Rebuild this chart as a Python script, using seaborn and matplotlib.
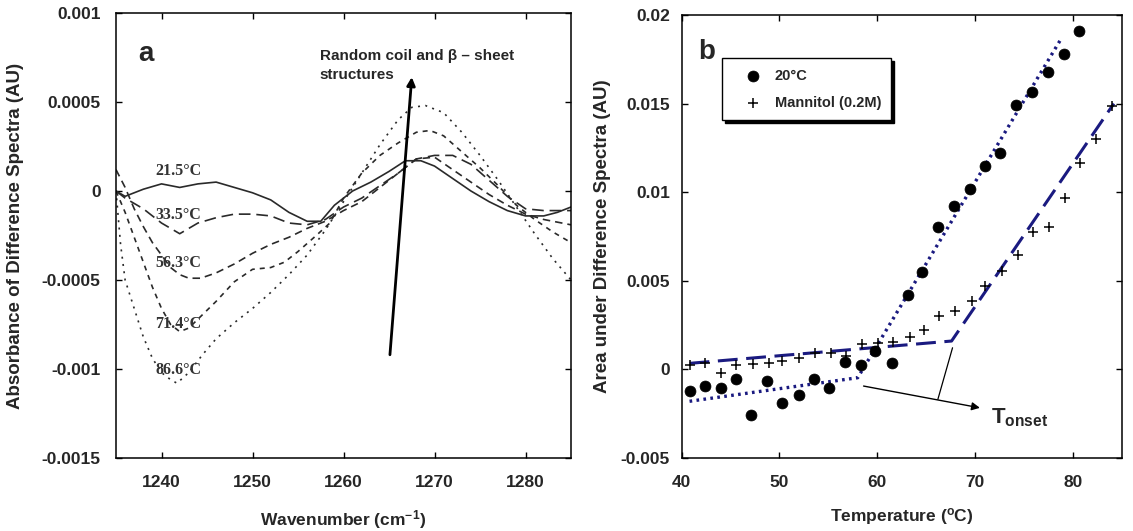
import matplotlib
matplotlib.use("Agg")
import numpy as np
import pandas as pd
import matplotlib.pyplot as plt
import seaborn as sns

# ---------------- Panel a: difference spectra ----------------
wn_215 = [1235, 1236, 1238, 1240, 1242, 1244, 1246, 1248, 1250, 1252, 1254, 1256, 1257.5,
          1259, 1261, 1263, 1265, 1266.8, 1268.5, 1270, 1272, 1274, 1276, 1278, 1280, 1282, 1283.5, 1285]
ab_215 = [0.0, -0.00003, 0.00001, 0.00004, 0.00002, 0.00004, 0.00005, 0.00002, -0.00001, -0.00005,
          -0.00012, -0.00017, -0.00017, -0.00008, 0.0, 0.00005, 0.00011, 0.00017, 0.00017, 0.00014,
          0.00007, 0.0, -0.00006, -0.00011, -0.00014, -0.00014, -0.00012, -0.00009]

wn_335 = [1235, 1236, 1238, 1240, 1242, 1244, 1246, 1248, 1250, 1252, 1254, 1256, 1258, 1260,
          1262, 1264, 1266, 1268, 1270, 1272, 1274, 1276, 1278, 1280, 1282, 1285]
ab_335 = [0.0, -0.00004, -0.0001, -0.00018, -0.00024, -0.00018, -0.00015, -0.00013, -0.00013,
          -0.00014, -0.00018, -0.00019, -0.00016, -0.00009, -0.00004, 0.00003, 0.0001, 0.00018,
          0.0002, 0.0002, 0.00015, 0.00006, -0.00003, -0.0001, -0.00011, -0.00011]

wn_563 = [1235, 1236, 1237, 1238, 1239, 1240, 1241, 1242, 1243, 1244.3, 1246, 1248, 1250, 1252,
          1254, 1256, 1258, 1260, 1262, 1264, 1266, 1268, 1270, 1272, 1274, 1276, 1278, 1280, 1282, 1285]
ab_563 = [0.00012, 0.00002, -0.0001, -0.0002, -0.00029, -0.00036, -0.00043, -0.00047, -0.00049,
          -0.00049, -0.00046, -0.00041, -0.00035, -0.0003, -0.00026, -0.00021, -0.00017, -0.00011,
          -0.00006, 0.00002, 0.0001, 0.00018, 0.00019, 0.00012, 0.00005, -0.00002, -0.00008,
          -0.00013, -0.00016, -0.00019]

wn_714 = [1235, 1236, 1237, 1238, 1239, 1240, 1241, 1242, 1243, 1244, 1246, 1248, 1250, 1252,
          1253.5, 1255, 1257, 1258.5, 1260, 1262, 1264, 1266, 1268, 1269.5, 1271, 1273, 1275, 1277,
          1279, 1281, 1283, 1285]
ab_714 = [0.0, -0.00012, -0.00026, -0.0004, -0.00054, -0.00066, -0.00075, -0.00079, -0.00077,
          -0.00072, -0.00062, -0.00051, -0.00044, -0.00043, -0.0004, -0.00034, -0.00025, -0.00018,
          -0.00004, 0.0001, 0.0002, 0.00027, 0.00033, 0.00034, 0.00031, 0.00022, 0.00013, 0.00003,
          -0.00008, -0.00016, -0.00023, -0.00029]

wn_866 = [1235, 1235.5, 1236, 1237, 1238, 1239, 1240, 1241, 1241.7, 1243, 1244.5, 1246, 1248,
          1250, 1252, 1254, 1256, 1258, 1260, 1262, 1264, 1266, 1267.5, 1269, 1271, 1273, 1275,
          1277, 1279, 1281, 1283, 1285]
ab_866 = [0.0, -0.0003, -0.0005, -0.00066, -0.00082, -0.00094, -0.00102, -0.00106, -0.00108,
          -0.00102, -0.00092, -0.00083, -0.00074, -0.00066, -0.00057, -0.00047, -0.00036, -0.00022,
          -0.00006, 0.0001, 0.00026, 0.0004, 0.00047, 0.00048, 0.00044, 0.00033, 0.0002, 0.00006,
          -0.00009, -0.00024, -0.00038, -0.0005]

temp_labels = ["21.5°C", "33.5°C", "56.3°C", "71.4°C", "86.6°C"]
label_wn = [1239.3, 1239.3, 1239.3, 1239.3, 1239.3]
label_ab = [0.000115, -0.000135, -0.000405, -0.00075, -0.001007]

a_xticks = [1240, 1250, 1260, 1270, 1280]
a_yticks = [-0.0015, -0.001, -0.0005, 0, 0.0005, 0.001]
a_yticklabels = ["-0.0015", "-0.001", "-0.0005", "0", "0.0005", "0.001"]
a_arrow_tail = (1265.1, -0.00092)
a_arrow_head = (1267.5, 0.00064)

# ---------------- Panel b: area vs temperature ----------------
t_20 = [40.8, 42.4, 44.0, 45.6, 47.1, 48.75, 50.3, 51.95, 53.55, 55.1, 56.7, 58.3, 59.8, 61.5,
        63.1, 64.6, 66.2, 67.8, 69.45, 71.0, 72.6, 74.2, 75.8, 77.5, 79.1, 80.6]
area_20 = [-0.00122, -0.00094, -0.00104, -0.00057, -0.00258, -0.00066, -0.00188, -0.00147,
           -0.00057, -0.00104, 0.00041, 0.00023, 0.00104, 0.00038, 0.00418, 0.0055, 0.00804,
           0.00923, 0.01017, 0.01149, 0.0122, 0.01492, 0.01563, 0.0168, 0.0178, 0.01908]

t_man = [40.8, 42.4, 44.0, 45.6, 47.3, 48.9, 50.3, 51.95, 53.6, 55.25, 56.8, 58.4, 60.1, 61.6,
         63.3, 64.8, 66.3, 68.0, 69.7, 71.0, 72.8, 74.4, 75.9, 77.6, 79.2, 80.7, 82.4, 84.0]
area_man = [0.00023, 0.00034, -0.00023, 0.00024, 0.00032, 0.00038, 0.00047, 0.00066, 0.00094,
            0.00094, 0.00075, 0.00141, 0.00151, 0.00156, 0.00185, 0.00222, 0.00301, 0.0033,
            0.00386, 0.00471, 0.00556, 0.00644, 0.00776, 0.00804, 0.00966, 0.01164, 0.013, 0.01484]

fit20_t = [40.8, 58.0, 78.8]
fit20_a = [-0.0018, -0.00047, 0.01865]
fitman_t = [40.8, 67.6, 84.2]
fitman_a = [0.00034, 0.0016, 0.0150]

b_xticks = [40, 50, 60, 70, 80]
b_yticks = [-0.005, 0, 0.005, 0.01, 0.015, 0.02]
b_yticklabels = ["-0.005", "0", "0.005", "0.01", "0.015", "0.02"]
onset_tick = ([67.7, 66.2], [0.00122, -0.00169])
onset_arrow_tail = (58.6, -0.00094)
onset_arrow_head = (70.5, -0.00217)

# ---------------- style ----------------
sns.set_style("ticks")
plt.rcParams['font.family'] = ['Liberation Sans', 'DejaVu Sans']
plt.rcParams['mathtext.fontset'] = 'custom'
plt.rcParams['mathtext.rm'] = 'Liberation Sans'
plt.rcParams['mathtext.bf'] = 'Liberation Sans:bold'
plt.rcParams['mathtext.it'] = 'Liberation Sans:italic'

fig = plt.figure(figsize=(11.33, 5.31), dpi=100)
fig.patch.set_facecolor('white')
ax1 = fig.add_axes([0.1024, 0.1375, 0.4016, 0.838])
ax2 = fig.add_axes([0.6017, 0.1375, 0.3883, 0.8343])

# Panel a
frames = []
for lab, xs, ys in zip(temp_labels, [wn_215, wn_335, wn_563, wn_714, wn_866],
                       [ab_215, ab_335, ab_563, ab_714, ab_866]):
    frames.append(pd.DataFrame({"wn": xs, "absorb": ys, "temp": lab}))
spec = pd.concat(frames, ignore_index=True)
dash_map = {"21.5°C": "", "33.5°C": (7, 3.5), "56.3°C": (4.5, 3),
            "71.4°C": (3, 3), "86.6°C": (1.2, 3.2)}
sns.lineplot(data=spec, x="wn", y="absorb", style="temp", dashes=dash_map,
             color="#2a2a2a", linewidth=1.2, estimator=None, sort=False,
             legend=False, ax=ax1)

for lab, x, y in zip(temp_labels, label_wn, label_ab):
    ax1.text(x, y, lab, family=['Liberation Serif', 'DejaVu Serif'], fontweight='bold',
             fontsize=11.5, color="#333333", ha='left', va='center')

ax1.annotate('', xy=a_arrow_head, xytext=a_arrow_tail,
             arrowprops=dict(arrowstyle='-|>', lw=2, color='black', mutation_scale=12,
                             shrinkA=0, shrinkB=0))
ax1.text(1257.4, 0.000705, "Random coil and β – sheet\nstructures", fontsize=11,
         fontweight='bold', ha='left', va='center', linespacing=1.45)
ax1.text(1238.3, 0.00077, "a", fontsize=20, fontweight='bold', ha='center', va='center')

ax1.set_xlim(1235, 1285)
ax1.set_ylim(-0.0015, 0.001)
ax1.set_xticks(a_xticks)
ax1.set_xticklabels([str(v) for v in a_xticks])
ax1.set_yticks(a_yticks)
ax1.set_yticklabels(a_yticklabels)
ax1.set_xlabel("Wavenumber (cm$^{\\mathbf{-1}}$)", fontsize=12.5, fontweight='bold')
ax1.set_ylabel("Absorbance of Difference Spectra (AU)", fontsize=13.5, fontweight='bold')
ax1.yaxis.set_label_coords(-0.202, 0.5)
ax1.xaxis.set_label_coords(0.5, -0.112)

# Panel b
sns.lineplot(x=fit20_t, y=fit20_a, color="#1a1a80", linewidth=2.4, ax=ax2,
             dashes=False, estimator=None, sort=False)
ax2.lines[-1].set_dashes((0.8, 1.3))
sns.lineplot(x=fitman_t, y=fitman_a, color="#1a1a80", linewidth=2.2, ax=ax2,
             estimator=None, sort=False)
ax2.lines[-1].set_dashes((6.5, 2.8))

sns.scatterplot(x=t_20, y=area_20, marker='o', s=62, color='black', edgecolor='black',
                linewidth=0.5, ax=ax2, label="20°C", zorder=3)
sns.scatterplot(x=t_man, y=area_man, marker='+', s=60, color='black',
                linewidth=1.1, ax=ax2, label="Mannitol (0.2M)", zorder=3)

ax2.plot(onset_tick[0], onset_tick[1], color='black', lw=0.9)
ax2.annotate('', xy=onset_arrow_head, xytext=onset_arrow_tail,
             arrowprops=dict(arrowstyle='-|>', lw=1, color='black', mutation_scale=12,
                             shrinkA=0, shrinkB=0))
ax2.text(71.6, -0.00272, r"$\mathbf{T}_{\mathbf{onset}}$", fontsize=16, ha='left', va='center')
ax2.text(42.6, 0.0179, "b", fontsize=20, fontweight='bold', ha='center', va='center')

leg = ax2.legend(loc='upper left', bbox_to_anchor=(0.0916, 0.902), borderaxespad=0,
                 frameon=True, fancybox=False, shadow={'color': 'black', 'alpha': 1},
                 edgecolor='black', borderpad=0.7, handlelength=2.8,
                 handletextpad=0.1, labelspacing=0.9, framealpha=1,
                 prop={'weight': 'bold', 'size': 10.5})
leg.get_frame().set_linewidth(1.0)

ax2.set_xlim(40, 85)
ax2.set_ylim(-0.005, 0.02)
ax2.set_xticks(b_xticks)
ax2.set_xticklabels([str(v) for v in b_xticks])
ax2.set_yticks(b_yticks)
ax2.set_yticklabels(b_yticklabels)
ax2.set_xlabel("Temperature ($^{\\mathbf{o}}$C)", fontsize=12.5, fontweight='bold')
ax2.set_ylabel("Area under Difference Spectra (AU)", fontsize=13.5, fontweight='bold')
ax2.yaxis.set_label_coords(-0.16, 0.5)
ax2.xaxis.set_label_coords(0.5, -0.108)

for ax, ypad in ((ax1, 11), (ax2, 8.5)):
    ax.tick_params(axis='both', which='major', direction='in', length=4.5, width=1,
                   top=True, right=True, labelsize=12.5, color='black')
    ax.tick_params(axis='y', pad=ypad)
    ax.tick_params(axis='x', pad=12)
    for lbl in ax.get_xticklabels() + ax.get_yticklabels():
        lbl.set_fontweight('bold')
    for sp in ax.spines.values():
        sp.set_visible(True)
        sp.set_color('black')
        sp.set_linewidth(1.1)
    ax.set_facecolor('white')

fig.savefig("out.png", dpi=100, facecolor='white')
